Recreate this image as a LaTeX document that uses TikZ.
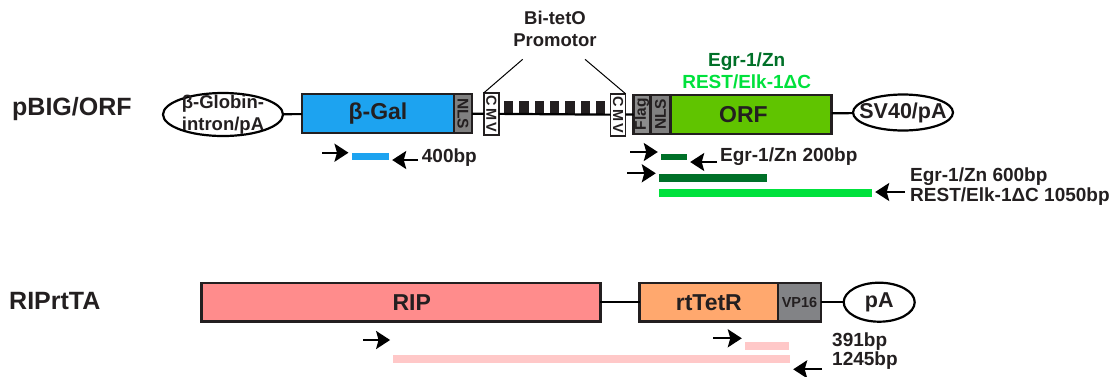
\documentclass[tikz,border=0pt]{standalone}
\usepackage{fontspec}
\setmainfont{Liberation Sans}
\usepackage{tikz}
\usetikzlibrary{shapes.geometric,arrows.meta,positioning}
\definecolor{ink}{RGB}{35,31,32}
\definecolor{galblue}{RGB}{29,163,240}
\definecolor{orfgreen}{RGB}{96,196,0}
\definecolor{darkgreen}{RGB}{0,112,40}
\definecolor{brightgreen}{RGB}{0,225,60}
\definecolor{ripred}{RGB}{255,140,140}
\definecolor{rttorange}{RGB}{255,168,110}
\definecolor{pinkbar}{RGB}{255,200,200}
\definecolor{taggray}{RGB}{128,128,128}
\definecolor{flaggray}{RGB}{140,140,140}
\definecolor{vpgray}{RGB}{130,131,134}

\begin{document}
\begin{tikzpicture}[ x=1pt , y=-1pt , every node/.style={ text=ink } ,
 box/.style={ draw=ink , line width=2.4pt , minimum height=39pt , inner sep=0pt , outer sep=0pt , font=\fontsize{23}{23}\selectfont\bfseries } ,
 tag/.style={ box , minimum width=18pt , font=\fontsize{15.5}{15.5}\selectfont\bfseries } ,
 cmvbox/.style={ tag , fill=white , line width=1.8pt , minimum width=15pt , minimum height=42pt , font=\fontsize{14.5}{14.5}\selectfont\bfseries } ,
 tet/.style={ fill=ink , minimum width=9.5pt , minimum height=12.8pt , inner sep=0pt , anchor=south } ,
 pa/.style={ ellipse , draw=black , line width=2.2pt , inner sep=0pt , outer sep=0pt , align=center , font=\fontsize{21.5}{22}\selectfont\bfseries } ,
 bar/.style={ minimum height=8pt , inner sep=0pt } ,
 link/.style={ draw=black , line width=2.2pt } ,
 primer/.style={ line width=2.2pt , -{Stealth[length=14pt,width=18pt,inset=2.5pt]} , shorten >=3pt } ,
 note/.style={ inner sep=0pt , align=left , font=\fontsize{19}{20}\selectfont\bfseries } ,
 title/.style={ note , anchor=west , font=\fontsize{25}{25}\selectfont\bfseries } ]
\useasboundingbox (0,0) rectangle (1113,376);

\node [ title ] (pbig) at (12,109) {pBIG/ORF};
\node [ pa , minimum width=120pt , minimum height=43pt , inner ysep=-5pt , font=\fontsize{18.5}{22}\selectfont\bfseries ] (bgi) at (223,114.5) {β-Globin-\\intron/pA};
\node [ box , fill=galblue , minimum width=152pt ] (bgal) at (378,113.7) {β-Gal};
\node [ tag , fill=taggray ] (nls_1) [right=0pt of bgal] {\rotatebox{-90}{NLS}};
\node [ cmvbox ] (cmv_1) at (491.4,113.8) {\rotatebox{-90}{C\kern2ptM\kern2ptV}};
\foreach \i in {1,...,7}
 \node [ tet ] (tet_\i) at ({508.65+15.33*(\i-1)},114.3) {};
\node [ cmvbox ] (cmv_2) at (618,114.7) {\rotatebox{-90}{C\kern2ptM\kern2ptV}};
\node [ tag , fill=flaggray , minimum width=17pt ] (flag) at (642,114.3) {\rotatebox{90}{Flag}};
\node [ tag , fill=taggray , minimum width=20pt ] (nls_2) [right=0pt of flag] {\rotatebox{90}{NLS}};
\node [ box , fill=orfgreen , minimum width=161pt ] (orf) [right=0pt of nls_2] {\hspace*{-15pt}ORF};
\node [ pa , minimum width=100pt , minimum height=36pt , inner xsep=-10pt ] (sv40) at (903,112.5) {SV40/pA};

\node [ note , align=center , font=\fontsize{18.5}{22}\selectfont\bfseries ] (promo) at (555,29) {Bi-tetO\\Promotor};
\coordinate (pro_l) at (522.7,59.3);
\coordinate (pro_r) at (585,59.3);
\node [ note , text=darkgreen ] (egr) at (746.7,61.7) {Egr-1/Zn};
\node [ note , text=brightgreen ] (rest) at (746.7,81.7) {REST/Elk-1ΔC};

\path [ link ]
(bgi) edge (bgal)
(nls_1) edge (cmv_1)
(cmv_1) edge (cmv_2)
(cmv_2) edge (flag)
(orf) edge (sv40);
\draw [ line width=1pt ] (pro_l) -- (cmv_1.north west);
\draw [ line width=1pt ] (pro_r) -- (cmv_2.north east);

\node [ bar , fill=galblue , minimum width=37.3pt , minimum height=7.5pt ] (bar_gal) at (370.35,156.7) {};
\node [ bar , fill=darkgreen , minimum width=26pt , minimum height=6.5pt ] (bar_egr_s) at (674,157) {};
\node [ bar , fill=darkgreen , minimum width=108pt ] (bar_egr_l) at (713,177.5) {};
\node [ bar , fill=brightgreen , minimum width=213pt ] (bar_rest) at (765.5,193) {};
\coordinate (f_gal) at (322,152.7);
\coordinate (r_gal) at (418,160);
\coordinate (f_egr) at (630,152);
\coordinate (r_egr) at (717,162);
\coordinate (f_egr_l) at (627,173.3);
\coordinate (r_rest) at (905,192);
\draw [ primer ] (f_gal) -- (f_gal -| bar_gal.west);
\draw [ primer ] (r_gal) -- (r_gal -| bar_gal.east);
\draw [ primer ] (f_egr) -- (f_egr -| bar_egr_s.west);
\draw [ primer ] (r_egr) -- (r_egr -| bar_egr_s.east);
\draw [ primer ] (f_egr_l) -- (f_egr_l -| bar_egr_l.west);
\draw [ primer ] (r_rest) -- (r_rest -| bar_rest.east);
\node [ note , anchor=west ] (bp_gal) at (421.7,157.3) {400bp};
\node [ note , anchor=west ] (bp_egr) at (720,157) {Egr-1/Zn 200bp};
\node [ note , anchor=west ] (bp_rest) at (910,187) {Egr-1/Zn 600bp\\REST/Elk-1ΔC 1050bp};

\node [ title ] (riprtta) at (9,301) {RIPrtTA};
\node [ box , fill=ripred , minimum width=399pt , minimum height=38.5pt ] (rip) at (400.8,302.2) {\hspace*{22pt}RIP};
\node [ box , fill=rttorange , minimum width=138.4pt , minimum height=38.5pt ] (rtt) at (708.8,302.2) {rtTetR};
\node [ tag , fill=vpgray , minimum width=43pt , minimum height=38.5pt , font=\fontsize{14.5}{14.5}\selectfont\bfseries ] (vp16) [right=0pt of rtt] {VP16};
\node [ pa , minimum width=71pt , minimum height=39pt ] (pa_r) at (879.2,302.2) {pA};
\path [ link ]
(rip) edge (rtt)
(vp16) edge (pa_r);

\node [ bar , fill=pinkbar , minimum width=44pt , minimum height=8.3pt ] (bar_rtt) at (767,345.8) {};
\node [ bar , fill=pinkbar , minimum width=396.7pt , minimum height=8.3pt ] (bar_rip) at (591.65,359.2) {};
\coordinate (f_rip) at (363,340);
\coordinate (f_rtt) at (713,338.3);
\coordinate (r_rip) at (822,369.3);
\draw [ primer ] (f_rip) -- (f_rip -| bar_rip.west);
\draw [ primer ] (f_rtt) -- (f_rtt -| bar_rtt.west);
\draw [ primer ] (r_rip) -- (r_rip -| bar_rip.east);
\node [ note , anchor=west , font=\fontsize{19}{17.5}\selectfont\bfseries ] (bp_rip) at (832,351.3) {391bp\\1245bp};
\end{tikzpicture}
\end{document}
